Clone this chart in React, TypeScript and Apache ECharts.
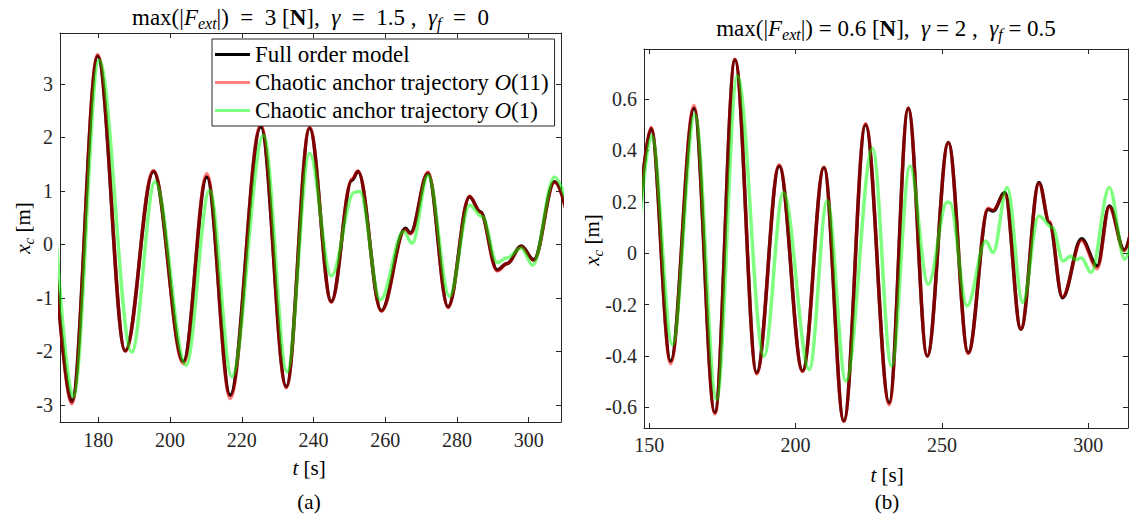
import React, { useEffect, useRef } from 'react';
import * as echarts from 'echarts';

const FONT = 'Liberation Serif';

// ---------- Panel (a) ----------
const aFullT = [167.0, 172.6, 179.8, 187.5, 195.35, 203.7, 210.25, 216.75, 225.3, 232.4, 238.9, 244.95, 250.7, 252.4, 258.9, 265.6, 267.0, 271.9, 277.5, 283.5, 286.5, 291.2, 294.0, 297.9, 301.4, 307.2, 313.5];
const aFullV = [0.5, -2.94, 3.52, -1.99, 1.36, -2.19, 1.26, -2.82, 2.2, -2.66, 2.17, -1.07, 1.2, 1.36, -1.24, 0.3, 0.21, 1.33, -1.17, 0.89, 0.61, -0.48, -0.36, -0.03, -0.29, 1.17, -0.3];
const aO11V = [0.5, -2.98, 3.55, -2.0, 1.38, -2.23, 1.32, -2.88, 2.24, -2.68, 2.19, -1.08, 1.22, 1.37, -1.25, 0.28, 0.19, 1.35, -1.18, 0.9, 0.6, -0.5, -0.36, -0.04, -0.3, 1.16, -0.3];
const aO1T = [167.2, 173.0, 180.2, 189.3, 195.8, 204.4, 211.0, 217.2, 226.05, 232.6, 238.9, 244.95, 251.3, 252.9, 258.6, 265.1, 267.5, 271.9, 277.9, 283.5, 287.0, 291.2, 294.0, 297.9, 301.1, 307.2, 313.5];
const aO1V = [1.1, -2.85, 3.44, -2.01, 1.17, -2.26, 1.01, -2.47, 2.04, -2.38, 1.7, -0.59, 0.97, 0.99, -1.04, 0.24, 0.02, 1.29, -0.97, 0.73, 0.52, -0.34, -0.25, -0.07, -0.39, 1.26, 0.0];
const aXTicks = [180, 200, 220, 240, 260, 280, 300];
const aYTicks = [-3, -2, -1, 0, 1, 2, 3];

// ---------- Panel (b) ----------
const bFullT = [144.5, 150.6, 157.3, 165.3, 172.4, 179.3, 186.7, 194.4, 202.4, 209.7, 216.5, 223.9, 232.0, 238.5, 245.0, 252.2, 259.0, 265.8, 267.5, 271.5, 277.0, 283.2, 286.7, 291.2, 297.7, 303.1, 307.2, 312.3, 316.5];
const bFullV = [-0.15, 0.486, -0.42, 0.564, -0.62, 0.753, -0.465, 0.34, -0.458, 0.334, -0.653, 0.5, -0.582, 0.564, -0.4, 0.431, -0.387, 0.171, 0.165, 0.236, -0.296, 0.275, 0.12, -0.173, 0.057, -0.05, 0.184, 0.013, 0.2];
const bO11V = [-0.15, 0.49, -0.43, 0.575, -0.625, 0.755, -0.47, 0.345, -0.46, 0.335, -0.655, 0.505, -0.59, 0.565, -0.4, 0.43, -0.39, 0.175, 0.168, 0.232, -0.295, 0.272, 0.125, -0.17, 0.05, -0.06, 0.18, 0.01, 0.2];
const bO1T = [144.5, 150.8, 157.9, 165.6, 173.0, 180.1, 189.2, 195.8, 204.7, 210.8, 217.2, 226.3, 232.8, 239.1, 245.3, 251.8, 252.7, 258.6, 265.0, 267.5, 272.3, 277.6, 283.1, 287.8, 291.4, 294.0, 295.6, 297.7, 301.0, 307.2, 312.5, 316.5];
const bO1V = [-0.2, 0.457, -0.355, 0.54, -0.569, 0.69, -0.4, 0.236, -0.452, 0.204, -0.497, 0.408, -0.439, 0.34, -0.121, 0.2, 0.197, -0.205, 0.048, 0.003, 0.256, -0.192, 0.145, 0.1, -0.03, -0.012, -0.025, -0.018, -0.075, 0.256, -0.023, 0.15];
const bXTicks = [150, 200, 250, 300];
const bYTicks = [-0.6, -0.4, -0.2, 0, 0.2, 0.4, 0.6];

const NAMES = ['Full order model', 'Chaotic anchor trajectory O(11)', 'Chaotic anchor trajectory O(1)'];
const COLORS = ['#000000', 'rgba(255,0,0,0.5)', 'rgba(0,255,0,0.5)'];

const AXIS_COLOR = '#262626';

const zip = (t: number[], v: number[]) => t.map((x, i) => [x, v[i]]);

function mkSeries(idx: number, data: number[][], axis: number) {
  return {
    type: 'line',
    name: NAMES[idx],
    data,
    xAxisIndex: axis,
    yAxisIndex: axis,
    showSymbol: false,
    symbol: 'none',
    smooth: 0.36,
    smoothMonotone: 'x',
    color: COLORS[idx],
    lineStyle: { color: COLORS[idx], width: 3.5 },
    z: 2 + idx,
    clip: true,
  };
}

function mkAxis(gridIndex: number, position: string, min: number, max: number, ticks: number[], labels: boolean, margin: number) {
  return {
    type: 'value',
    gridIndex,
    position,
    min,
    max,
    scale: true,
    axisLine: { show: true, onZero: false, lineStyle: { color: AXIS_COLOR, width: 1 } },
    axisTick: { show: true, inside: true, length: 5, customValues: ticks, lineStyle: { color: AXIS_COLOR, width: 1 } },
    axisLabel: {
      show: labels,
      customValues: ticks,
      margin,
      fontFamily: FONT,
      fontSize: 20,
      color: AXIS_COLOR,
    },
    splitLine: { show: false },
  };
}

const richBase = (size: number) => ({
  n: { fontFamily: FONT, fontSize: size, fill: '#000' },
  i: { fontFamily: FONT, fontSize: size, fontStyle: 'italic', fill: '#000' },
  b: { fontFamily: FONT, fontSize: size, fontWeight: 'bold', fill: '#000' },
  sub: { fontFamily: FONT, fontSize: Math.round(size * 0.7), fontStyle: 'italic', fill: '#000', padding: [12, 0, 0, 0] },
});

function txt(x: number, y: number, text: string, size: number, rotation = 0) {
  return {
    type: 'text',
    x,
    y,
    rotation,
    z: 10,
    style: {
      text,
      rich: richBase(size),
      fontFamily: FONT,
      fontSize: size,
      fill: '#000',
      align: 'center',
      verticalAlign: 'middle',
    },
  };
}

const S = '\u00A0';
const EQ = `${S}${S}=${S}${S}`;
const EQ1 = `${S}=${S}`;

export default function App() {
  const ref = useRef<HTMLDivElement>(null);
  useEffect(() => {
    if (!ref.current) return;
    const chart = echarts.init(ref.current, null, { renderer: 'svg' });
    const option: any = {
      animation: false,
      backgroundColor: '#fff',
      textStyle: { fontFamily: FONT },
      grid: [
        { left: 60, top: 33, width: 501, height: 389, containLabel: false },
        { left: 644, top: 49, width: 484, height: 379, containLabel: false },
      ],
      xAxis: [
        mkAxis(0, 'bottom', 169.3, 309.0, aXTicks, true, 8),
        mkAxis(0, 'top', 169.3, 309.0, aXTicks, false, 8),
        mkAxis(1, 'bottom', 148.2, 313.6, bXTicks, true, 7),
        mkAxis(1, 'top', 148.2, 313.6, bXTicks, false, 8),
      ],
      yAxis: [
        mkAxis(0, 'left', -3.32, 3.95, aYTicks, true, 7),
        mkAxis(0, 'right', -3.32, 3.95, aYTicks, false, 7),
        mkAxis(1, 'left', -0.68, 0.795, bYTicks, true, 7),
        mkAxis(1, 'right', -0.68, 0.795, bYTicks, false, 7),
      ],
      legend: {
        show: true,
        orient: 'vertical',
        left: 212,
        top: 39,
        padding: [4, 6, 4, 3],
        itemGap: 5,
        itemWidth: 35,
        itemHeight: 3,
        icon: 'rect',
        selectedMode: false,
        borderColor: AXIS_COLOR,
        borderWidth: 1,
        backgroundColor: '#fff',
        data: NAMES,
        formatter: (name: string) => name.replace('O(', '{i|O}('),
        textStyle: {
          fontFamily: FONT,
          fontSize: 23,
          lineHeight: 20,
          color: '#000',
          rich: { i: { fontFamily: FONT, fontSize: 23, fontStyle: 'italic', color: '#000' } },
        },
      },
      series: [
        mkSeries(0, zip(aFullT, aFullV), 0),
        mkSeries(1, zip(aFullT, aO11V), 0),
        mkSeries(2, zip(aO1T, aO1V), 0),
        mkSeries(0, zip(bFullT, bFullV), 2),
        mkSeries(1, zip(bFullT, bO11V), 2),
        mkSeries(2, zip(bO1T, bO1V), 2),
      ].map((s, k) => ({ ...s, xAxisIndex: k < 3 ? 0 : 2, yAxisIndex: k < 3 ? 0 : 2 })),
      graphic: [
        txt(310.5, 17, `{n|max(|}{i|F}{sub|ext}{n||)${EQ}3${S}[}{b|N}{n|],${S}${S}}{i|γ}{n|${EQ}1.5${S},${S}${S}}{i|γ}{sub|f}{n|${EQ}0}`, 23),
        txt(886, 28, `{n|max(|}{i|F}{sub|ext}{n||)${EQ1}0.6${S}[}{b|N}{n|],${S}${S}}{i|γ}{n|${EQ1}2${S},${S}${S}}{i|γ}{sub|f}{n|${EQ1}0.5}`, 23),
        txt(309, 468, `{i|t}{n|${S}[s]}`, 21),
        txt(887, 475, `{i|t}{n|${S}[s]}`, 21),
        txt(309, 502, `{n|(a)}`, 21),
        txt(887, 502, `{n|(b)}`, 21),
        txt(23, 228, `{i|x}{sub|c}{n|${S}[m]}`, 21, Math.PI / 2),
        txt(592, 240, `{i|x}{sub|c}{n|${S}[m]}`, 21, Math.PI / 2),
      ],
    };
    chart.setOption(option);
    return () => chart.dispose();
  }, []);
  return (
    <div
      ref={ref}
      style={{ position: 'absolute', left: 0, top: 0, width: 1129, height: 516, background: '#fff' }}
    />
  );
}
